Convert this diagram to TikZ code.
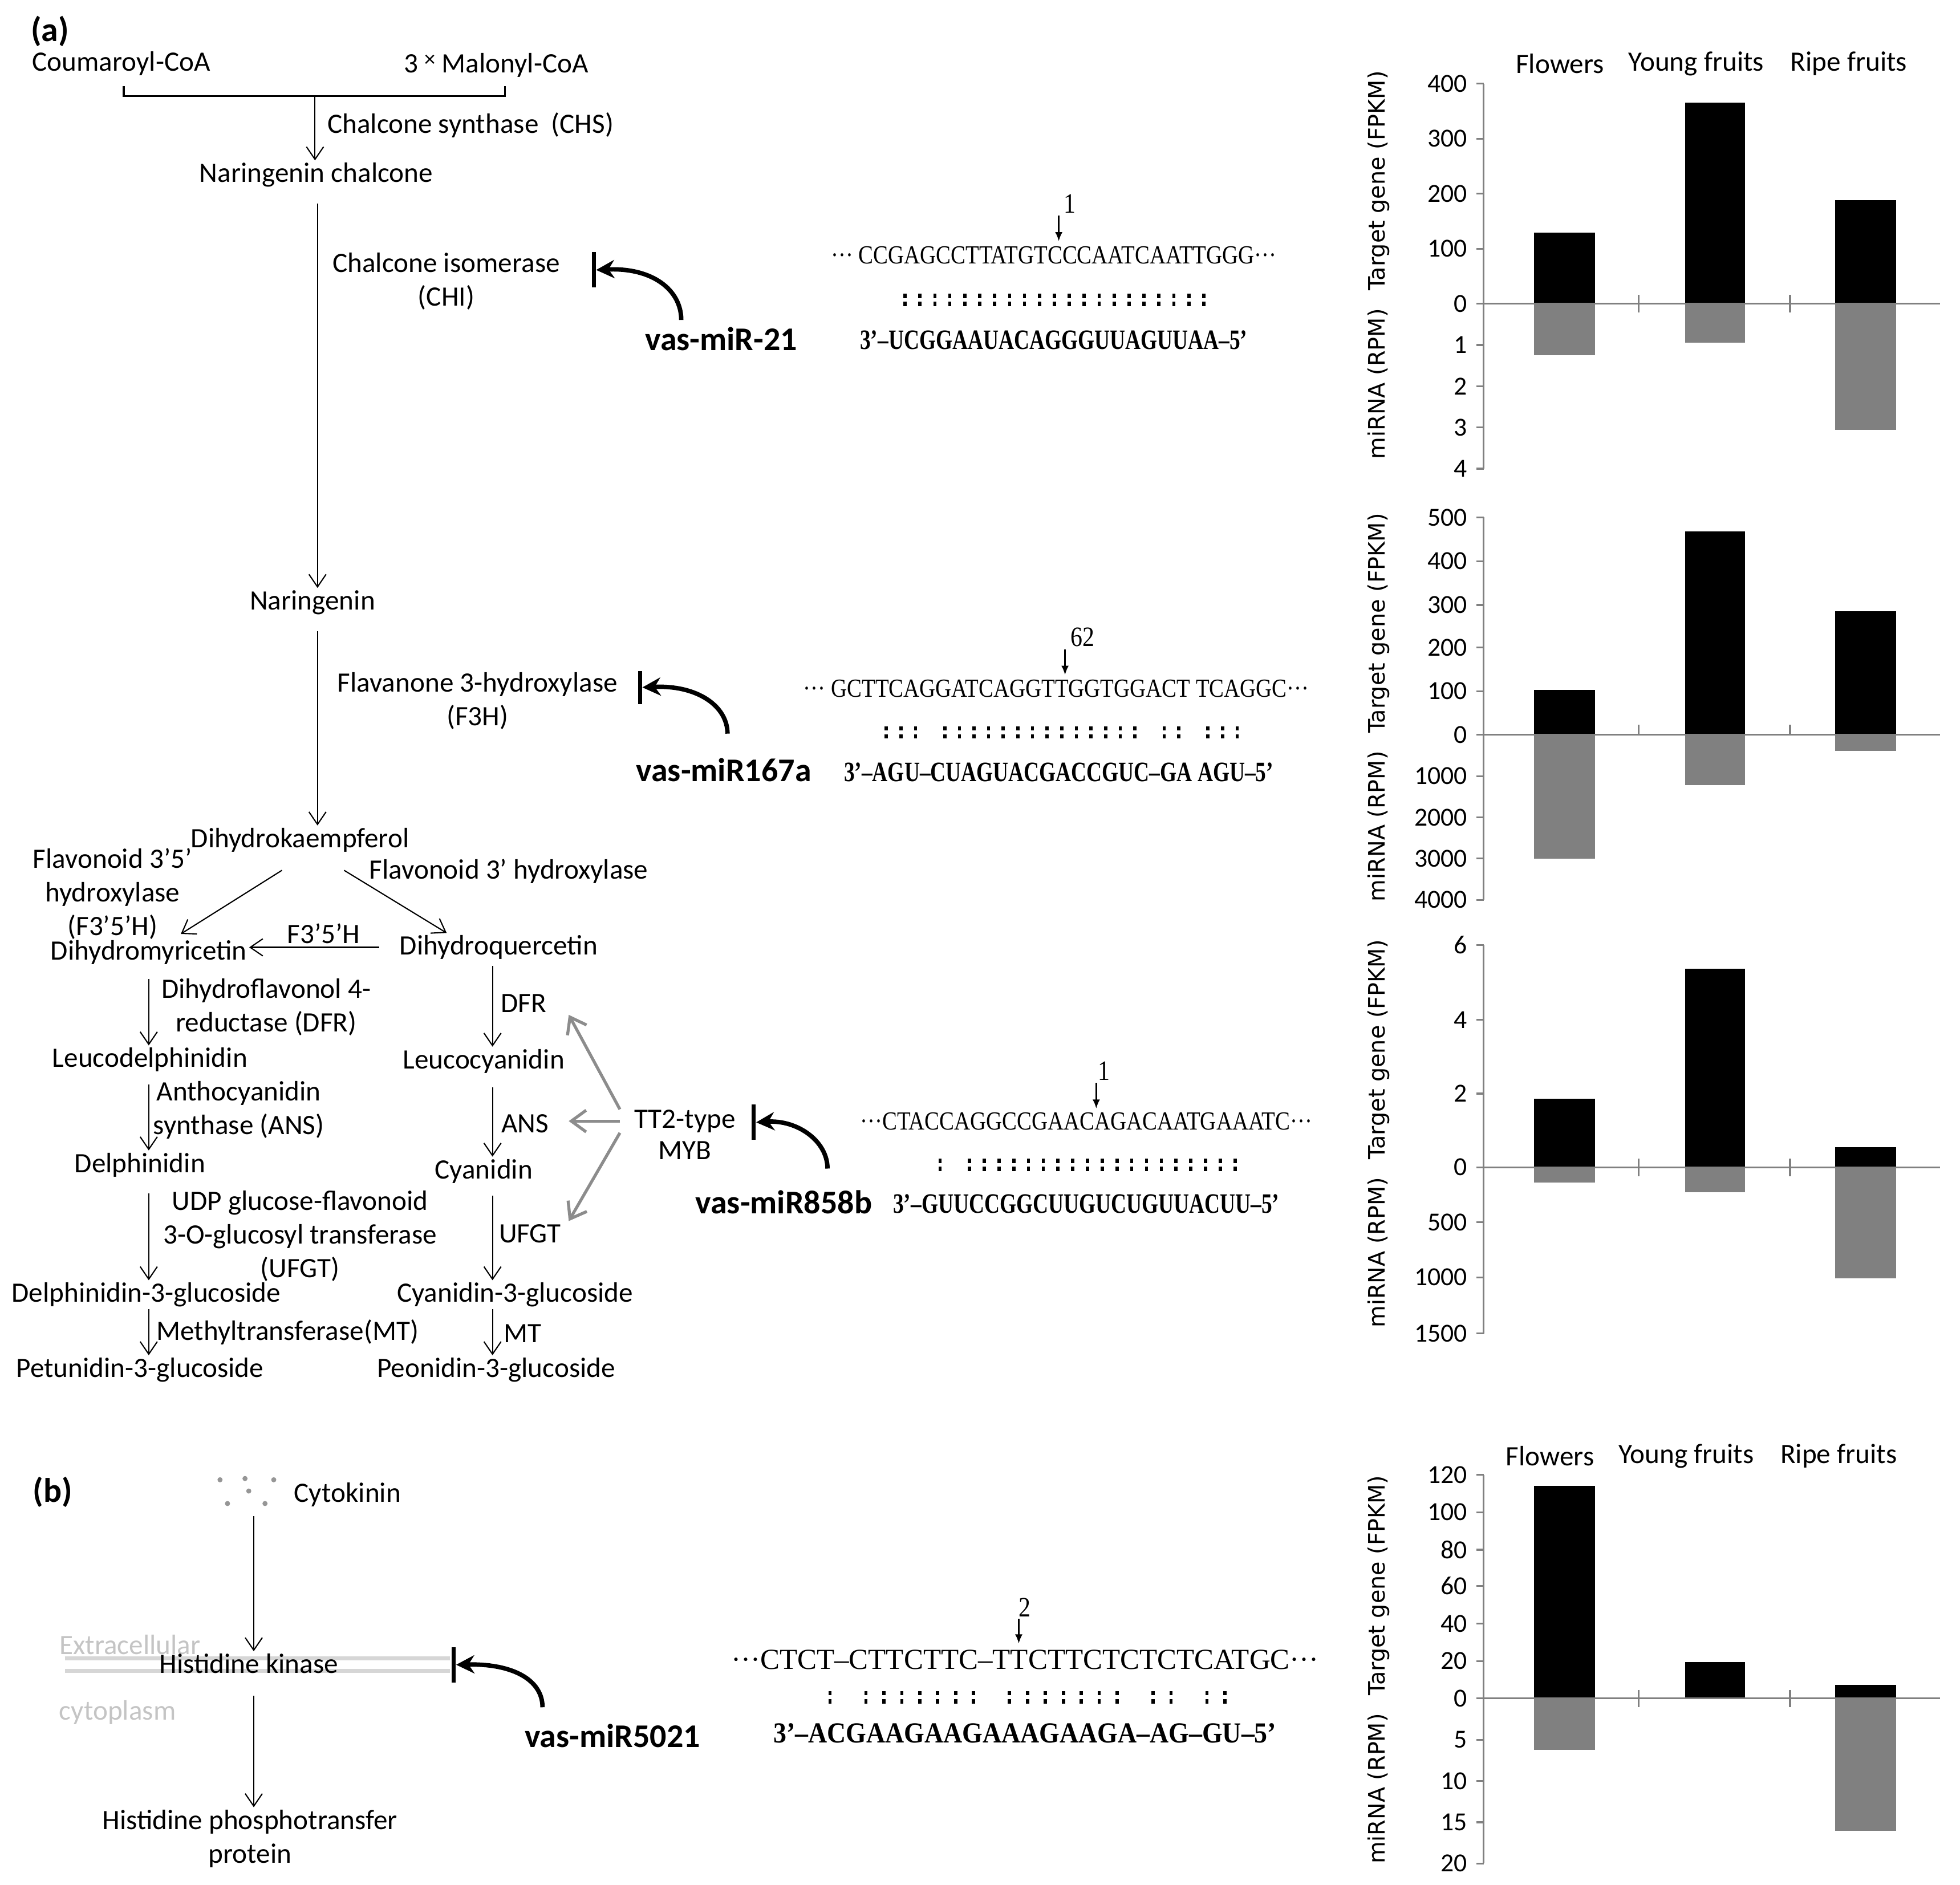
\documentclass[tikz,border=0pt]{standalone}
\usepackage{fontspec}
\setmainfont{Carlito}
\newfontfamily\seqfont[FakeStretch=0.85]{Liberation Serif}
\newfontfamily\seqbf[FakeStretch=0.76]{Liberation Serif}
\newfontfamily\seqwide{Liberation Serif}
\newfontfamily\seqbfw[FakeStretch=0.9]{Liberation Serif}
\newfontfamily\axfont{DejaVu Sans}
\usepackage{tikz}
\usetikzlibrary{arrows.meta}
\usetikzlibrary{positioning}
\definecolor{axgray}{RGB}{128,128,128}
\definecolor{bargray}{RGB}{128,128,128}
\definecolor{myblines}{RGB}{140,140,140}
\definecolor{memgray}{RGB}{214,214,214}
\definecolor{memtext}{RGB}{196,196,196}
\definecolor{dotgray}{RGB}{150,150,150}

\newcommand{\pairrow}[4]{%
  \foreach \c [count=\i from 0] in {#4}{%
    \ifnum\c=1
      \fill (#1+\i*#2-1.3,#3-5) rectangle (#1+\i*#2+1.3,#3-1.5);
      \fill (#1+\i*#2-1.3,#3+1.5) rectangle (#1+\i*#2+1.3,#3+5);
    \fi}}

\begin{document}
\begin{tikzpicture}[x=0.2192mm,y=-0.2192mm,
  lbl/.style={font=\fontsize{14}{16.8}\selectfont,inner sep=1pt,align=center},
  tag/.style={font=\fontsize{17}{19}\selectfont\bfseries,inner sep=1pt},
  mir/.style={font=\fontsize{16.5}{19}\selectfont\bfseries,inner sep=1pt},
  arr/.style={-{Straight Barb[length=2.2mm,width=3mm]},line width=0.6pt},
  reg/.style={-{Straight Barb[length=2.6mm,width=3.8mm]},line width=1.5pt,draw=myblines},
  inh/.style={-{Stealth[length=3.2mm,width=3.2mm]},line width=2.2pt},
  tbar/.style={fill=black,minimum width=0.7mm,minimum height=6.2mm,inner sep=0pt},
  seqT/.style={font=\seqfont\fontsize{13}{15}\selectfont,inner sep=1pt},
  seqB/.style={font=\seqbf\fontsize{14}{16}\selectfont\bfseries,inner sep=1pt},
  seqTw/.style={font=\seqwide\fontsize{14.5}{16}\selectfont,inner sep=1pt},
  seqBw/.style={font=\seqbfw\fontsize{14.5}{16}\selectfont\bfseries,inner sep=1pt},
  num/.style={font=\seqfont\fontsize{14}{16}\selectfont,inner sep=1pt},
  cut/.style={-{Latex[length=1.6mm,width=1.3mm]},line width=0.7pt},
  axis/.style={draw=axgray,line width=0.9pt},
  tick/.style={font=\fontsize{13}{15}\selectfont,anchor=east,inner sep=0pt},
  cat/.style={font=\fontsize{14}{16}\selectfont,inner sep=0pt},
  ylab/.style={font=\axfont\fontsize{11.3}{13}\selectfont,rotate=90,inner sep=0pt},
  up/.style={fill=black},
  down/.style={fill=bargray}]
\useasboundingbox (0,0) rectangle (1568,1508);

% (a) pathway
\node at (40,25)[tag](pa){(a)};
\node at (97,51)[lbl](cou){Coumaroyl-CoA};
\node at (397,52)[lbl](mal){3 \raisebox{3pt}{\fontsize{11}{11}\selectfont ×} Malonyl-CoA};
\draw[line width=0.9pt] (99,69) -- (99,77) -- (404,77) -- (404,69);
\coordinate (brk) at (252,77);
\coordinate (mcol) at (254,0);
\coordinate (lcol) at (119,0);
\coordinate (rcol) at (394,0);
\node at (253,140)[lbl](nchal){Naringenin chalcone};
\node at (260,100)[lbl,anchor=west](chs){Chalcone synthase\ \ (CHS)};
\node at (250,482)[lbl](nar){Naringenin};
\node at (357,225)[lbl](chi){Chalcone isomerase\\(CHI)};
\node at (382,561)[lbl](f3h){Flavanone 3-hydroxylase\\(F3H)};
\node at (240,672)[lbl](dhk){Dihydrokaempferol};
\node at (90,715)[lbl](f35h){Flavonoid 3’5’\\hydroxylase\\(F3’5’H)};
\node at (407,697)[lbl](f3x){Flavonoid 3’ hydroxylase};
\node at (119,762)[lbl](dhm){Dihydromyricetin};
\node at (399,758)[lbl](dhq){Dihydroquercetin};
\node at (259,747)[lbl](f35b){F3’5’H};
\node at (213,806)[lbl](dfrl){Dihydroflavonol 4-\\reductase (DFR)};
\node at (120,848)[lbl](ldp){Leucodelphinidin};
\node at (387,849)[lbl](lcy){Leucocyanidin};
\node at (191,888)[lbl](ansl){Anthocyanidin\\synthase (ANS)};
\node at (112,932)[lbl](dp){Delphinidin};
\node at (387,937)[lbl](cy){Cyanidin};
\node at (240,989)[lbl](ufgtl){UDP glucose-flavonoid\\3-O-glucosyl transferase\\(UFGT)};
\node at (117,1036)[lbl](dp3g){Delphinidin-3-glucoside};
\node at (412,1036)[lbl](cy3g){Cyanidin-3-glucoside};
\node at (230,1066)[lbl](mtl){Methyltransferase(MT)};
\node at (112,1096)[lbl](pt3g){Petunidin-3-glucoside};
\node at (397,1096)[lbl](pn3g){Peonidin-3-glucoside};
\node at (419,803)[lbl](dfrr){DFR};
\node at (420,899)[lbl](ansr){ANS};
\node at (424,987)[lbl](ufgtr){UFGT};
\node at (418,1067)[lbl](mtr){MT};
\node at (548,897)[lbl,inner xsep=7pt,inner ysep=0pt](tt2){TT2-type};
\node[lbl,below=3pt of tt2](myb){MYB};

\draw[arr] (brk) -- (brk |- nchal.north);
\draw[arr,shorten <=7pt] (nchal.south -| mcol) -- (nar.north -| mcol);
\draw[arr,shorten <=7pt] (nar.south -| mcol) -- (dhk.north -| mcol);
\draw[arr] ([xshift=-9pt,yshift=-8pt]dhk.south) -- ([xshift=16pt,yshift=2pt]dhm.north);
\draw[arr] ([xshift=22pt,yshift=-8pt]dhk.south) -- ([xshift=-26pt]dhq.north);
\draw[arr,shorten <=9pt] (dhq.west) -- (dhq.west -| dhm.east);
\draw[arr,shorten <=6pt] (dhm.south -| lcol) -- (ldp.north -| lcol);
\draw[arr,shorten <=5pt] (ldp.south -| lcol) -- (dp.north -| lcol);
\draw[arr,shorten <=7pt] (dp.south -| lcol) -- (dp3g.north -| lcol);
\draw[arr] (dp3g.south -| lcol) -- (pt3g.north -| lcol);
\draw[arr,shorten <=2pt] (dhq.south -| rcol) -- (lcy.north -| rcol);
\draw[arr,shorten <=6pt] (lcy.south -| rcol) -- (cy.north -| rcol);
\draw[arr,shorten <=5pt] (cy.south -| rcol) -- (cy3g.north -| rcol);
\draw[arr] (cy3g.south -| rcol) -- (pn3g.north -| rcol);

\coordinate (tdfr) at (455,812);
\coordinate (tans) at (455,897);
\coordinate (tufgt) at (455,977);
\draw[reg] (tt2.north west) -- (tdfr);
\draw[reg] (tt2.west) -- (tans);
\draw[reg] (tt2.south west) -- (tufgt);

% miRNA inhibition
\node at (577,271)[mir](mir21){vas-miR-21};
\node at (579,616)[mir](mir167){vas-miR167a};
\node at (627,962)[mir](mir858){vas-miR858b};
\node at (475,216)[tbar](b21){};
\node at (512,550)[tbar,minimum height=5.8mm](b167){};
\node at (603,898)[tbar](b858){};
\coordinate (s21) at (545,256);
\coordinate (s167) at (582,587);
\coordinate (s858) at (662,935);
\draw[inh] (s21) .. controls (545,232) and (522,214) .. (b21.east);
\draw[inh] (s167) .. controls (582,565) and (558,548) .. (b167.east);
\draw[inh] (s858) .. controls (662,913) and (638,896) .. (b858.east);

% target sites
\node at (843,204)[seqT](t21){··· CCGAGCCTTATGTCCCAATCAATTGGG···};
\node at (843,272)[seqB](m21){3’–UCGGAAUACAGGGUUAGUUAA–5’};
\node at (856,163)[num](n21){1};
\coordinate (c21) at (847,193);
\draw[cut] (n21.south -| c21) -- (c21);
\pairrow{724}{11.95}{240}{1,1,1,1,1,1,1,1,1,1,1,1,1,1,1,1,1,1,1,1,1}

\node at (845,551)[seqT](t167){··· GCTTCAGGATCAGGTTGGTGGACT TCAGGC···};
\node at (847,618)[seqB](m167){3’–AGU–CUAGUACGACCGUC–GA AGU–5’};
\node at (866,510)[num](n167){62};
\coordinate (c167) at (852,540);
\draw[cut] (n167.south -| c167) -- (c167);
\pairrow{709}{11.7}{586}{1,1,1,0,1,1,1,1,1,1,1,1,1,1,1,1,1,1,0,1,1,0,1,1,1}

\node at (869,897)[seqT](t858){···CTACCAGGCCGAACAGACAATGAAATC···};
\node at (869,963)[seqB](m858){3’–GUUCCGGCUUGUCUGUUACUU–5’};
\node at (883,857)[num](n858){1};
\coordinate (c858) at (877,887);
\draw[cut] (n858.south -| c858) -- (c858);
\pairrow{752}{11.8}{932}{1,0,1,1,1,1,1,1,1,1,1,1,1,1,1,1,1,1,1,1,1}

% (b) cytokinin
\node at (42,1194)[tag](pb){(b)};
\foreach \x/\y in {176/1184,196/1183,219/1184,199/1193,182/1203,212/1203}
  \fill[dotgray] (\x,\y) circle[radius=0.45mm];
\node at (278,1196)[lbl](ck){Cytokinin};
\coordinate (bcol) at (203,0);
\coordinate (cks) at (203,1213);
\draw[memgray,line width=2pt] (52,1327) -- (360,1327);
\draw[memgray,line width=2pt] (52,1337) -- (360,1337);
\node at (104,1316)[lbl,text=memtext](ext){Extracellular};
\node at (94,1370)[lbl,text=memtext](cyt){cytoplasm};
\node at (199,1331)[lbl](hk){Histidine kinase};
\node at (200,1471)[lbl](hpt){Histidine phosphotransfer\\protein};
\draw[arr] (cks) -- (hk.north -| bcol);
\draw[arr,shorten <=10pt] (hk.south -| bcol) -- (hpt.north -| bcol);
\node at (490,1389)[mir](mir5021){vas-miR5021};
\node at (363,1332)[tbar](b5021){};
\coordinate (s5021) at (434,1366);
\draw[inh] (s5021) .. controls (434,1344) and (410,1331) .. (b5021.east);

\node at (820,1328)[seqTw](t5021){···CTCT–CTTCTTC–TTCTTCTCTCTCATGC···};
\node at (820,1387)[seqBw](m5021){3’–ACGAAGAAGAAAGAAGA–AG–GU–5’};
\node at (820,1286)[num](n5021){2};
\coordinate (c5021) at (815,1315);
\draw[cut] (n5021.south -| c5021) -- (c5021);
\pairrow{664}{14.36}{1358}{1,0,1,1,1,1,1,1,1,0,1,1,1,1,1,1,1,0,1,1,0,1,1}

% chart 1
\node at (1248,51)[cat](fl1){Flowers};
\node at (1357,51)[cat](yf1){Young fruits};
\node at (1479,51)[cat](rf1){Ripe fruits};
\node at (1103,212)[ylab](yl1){miRNA (RPM)\hspace{9pt}Target gene (FPKM)};
\fill[up] (1227,243) rectangle (1276,186);
\fill[up] (1348,243) rectangle (1396,82);
\fill[up] (1468,243) rectangle (1517,160);
\fill[down] (1227,243) rectangle (1276,284);
\fill[down] (1348,243) rectangle (1396,274);
\fill[down] (1468,243) rectangle (1517,344);
\draw[axis] (1187,67) -- (1187,375);
\draw[axis] (1187,243) -- (1552,243);
\foreach \x in {1311,1432} \draw[axis] (\x,236) -- (\x,250);
\foreach \y/\t in {67/400,111/300,155/200,199/100,243/0,276/1,309/2,342/3,375/4}{
  \draw[axis] (1181,\y) -- (1187,\y);
  \node at (1174,\y)[tick](ka\y){\t};
}

% chart 2
\node at (1103,566)[ylab](yl2){miRNA (RPM)\hspace{9pt}Target gene (FPKM)};
\fill[up] (1227,588) rectangle (1276,552);
\fill[up] (1348,588) rectangle (1396,425);
\fill[up] (1468,588) rectangle (1517,489);
\fill[down] (1227,588) rectangle (1276,687);
\fill[down] (1348,588) rectangle (1396,628);
\fill[down] (1468,588) rectangle (1517,601);
\draw[axis] (1187,414) -- (1187,720);
\draw[axis] (1187,588) -- (1552,588);
\foreach \x in {1311,1432} \draw[axis] (\x,580) -- (\x,588);
\foreach \y/\t in {414/500,449/400,484/300,518/200,553/100,588/0,621/1000,654/2000,687/3000,720/4000}{
  \draw[axis] (1181,\y) -- (1187,\y);
  \node at (1174,\y)[tick](kb\y){\t};
}

% chart 3
\node at (1103,907)[ylab](yl3){miRNA (RPM)\hspace{9pt}Target gene (FPKM)};
\fill[up] (1227,934) rectangle (1276,879);
\fill[up] (1348,934) rectangle (1396,775);
\fill[up] (1468,934) rectangle (1517,918);
\fill[down] (1227,934) rectangle (1276,946);
\fill[down] (1348,934) rectangle (1396,954);
\fill[down] (1468,934) rectangle (1517,1023);
\draw[axis] (1187,756) -- (1187,1067);
\draw[axis] (1187,934) -- (1552,934);
\foreach \x in {1311,1432} \draw[axis] (\x,927) -- (\x,941);
\foreach \y/\t in {756/6,816/4,875/2,934/0,978/500,1022/1000,1067/1500}{
  \draw[axis] (1181,\y) -- (1187,\y);
  \node at (1174,\y)[tick](kc\y){\t};
}

% chart 4
\node at (1240,1165)[cat](fl4){Flowers};
\node at (1349,1165)[cat](yf4){Young fruits};
\node at (1471,1165)[cat](rf4){Ripe fruits};
\node at (1103,1336)[ylab](yl4){miRNA (RPM)\hspace{9pt}Target gene (FPKM)};
\fill[up] (1227,1359) rectangle (1276,1189);
\fill[up] (1348,1359) rectangle (1396,1330);
\fill[up] (1468,1359) rectangle (1517,1348);
\fill[down] (1227,1359) rectangle (1276,1400);
\fill[down] (1468,1359) rectangle (1517,1465);
\draw[axis] (1187,1180) -- (1187,1491);
\draw[axis] (1187,1359) -- (1552,1359);
\foreach \x in {1311,1432} \draw[axis] (\x,1352) -- (\x,1366);
\foreach \y/\t in {1180/120,1210/100,1240/80,1269/60,1299/40,1329/20,1359/0,1392/5,1425/10,1458/15,1491/20}{
  \draw[axis] (1181,\y) -- (1187,\y);
  \node at (1174,\y)[tick](kd\y){\t};
}
\end{tikzpicture}
\end{document}
